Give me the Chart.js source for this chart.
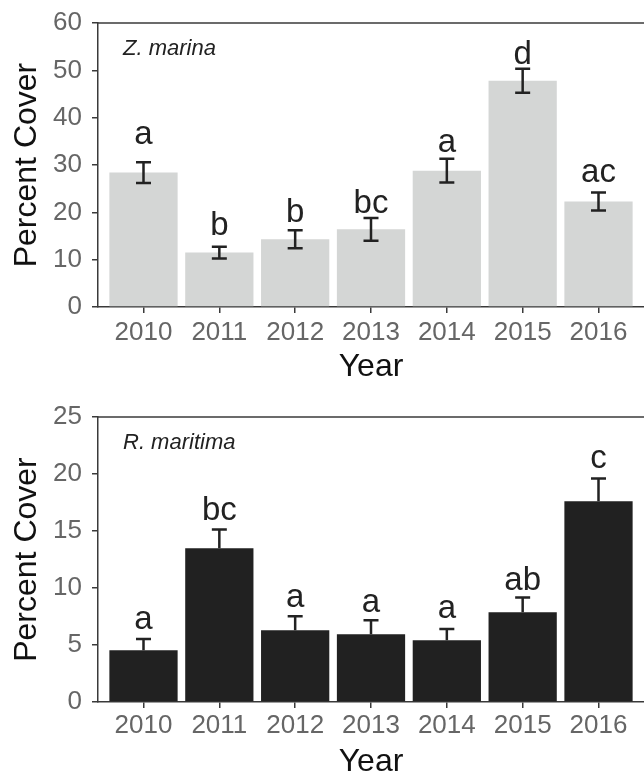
<!DOCTYPE html>
<html>
<head>
<meta charset="utf-8">
<script src="https://cdn.jsdelivr.net/npm/chart.js@4.4.1/dist/chart.umd.min.js"></script>
<style>
  html, body { margin: 0; padding: 0; background: #ffffff; overflow: hidden; }
  .panel { width: 644px; height: 388px; }
  canvas { display: block; }
</style>
</head>
<body>
<div class="panel"><canvas id="zostera" width="644" height="388"></canvas></div>
<div class="panel"><canvas id="ruppia" width="644" height="388"></canvas></div>
<script>
// Survey years
const years = ['2010', '2011', '2012', '2013', '2014', '2015', '2016'];

// Zostera marina: mean percent cover, standard error, significance groups
const zosteraMean = [28.4, 11.5, 14.3, 16.4, 28.8, 47.8, 22.3];
const zosteraSE = [2.2, 1.25, 1.9, 2.4, 2.5, 2.55, 1.9];
const zosteraLetters = ['a', 'b', 'b', 'bc', 'a', 'd', 'ac'];
const zosteraLetterY = [34.5, 15.3, 17.9, 19.8, 32.7, 51.3, 26.4];
const zosteraTicks = [0, 10, 20, 30, 40, 50, 60];

// Ruppia maritima: mean percent cover, standard error, significance groups
const ruppiaMean = [4.53, 13.48, 6.29, 5.94, 5.41, 7.87, 17.6];
const ruppiaSE = [1.0, 1.65, 1.23, 1.23, 1.0, 1.3, 2.0];
const ruppiaLetters = ['a', 'bc', 'a', 'a', 'a', 'ab', 'c'];
const ruppiaLetterY = [6.4, 16.0, 8.3, 7.9, 7.4, 9.8, 20.5];
const ruppiaTicks = [0, 5, 10, 15, 20, 25];

const FONT = '"Liberation Sans", Arial, Helvetica, sans-serif';
const AXIS = '#3a3a3a';
const TICK_TEXT = '#666666';
const INK = '#222222';

// Draws the top frame line, error bars, group letters and species name
const annotate = {
  id: 'annotate',
  afterDatasetsDraw(chart, args, opts) {
    const { ctx, chartArea } = chart;
    const y = chart.scales.y;
    const bars = chart.getDatasetMeta(0).data;
    ctx.save();

    ctx.strokeStyle = AXIS;
    ctx.lineWidth = 1.5;
    ctx.beginPath();
    ctx.moveTo(chartArea.left - 0.75, chartArea.top);
    ctx.lineTo(chart.width, chartArea.top);
    ctx.stroke();

    ctx.strokeStyle = INK;
    ctx.lineWidth = 2.5;
    const cap = 7.5;
    bars.forEach((bar, i) => {
      const m = opts.mean[i], se = opts.se[i];
      const yHi = y.getPixelForValue(m + se);
      const yLo = opts.upperOnly ? y.getPixelForValue(m) : y.getPixelForValue(m - se);
      ctx.beginPath();
      ctx.moveTo(bar.x, yHi);
      ctx.lineTo(bar.x, yLo);
      ctx.moveTo(bar.x - cap, yHi);
      ctx.lineTo(bar.x + cap, yHi);
      if (!opts.upperOnly) {
        ctx.moveTo(bar.x - cap, yLo);
        ctx.lineTo(bar.x + cap, yLo);
      }
      ctx.stroke();
    });

    ctx.fillStyle = INK;
    ctx.font = '33px ' + FONT;
    ctx.textAlign = 'center';
    ctx.textBaseline = 'alphabetic';
    bars.forEach((bar, i) => {
      ctx.fillText(opts.letters[i], bar.x, y.getPixelForValue(opts.letterY[i]));
    });

    ctx.font = 'italic 22px ' + FONT;
    ctx.textAlign = 'left';
    ctx.fillText(opts.species, chartArea.left + 25, chartArea.top + 31.5);
    ctx.restore();
  }
};

function panel(id, cfg) {
  return new Chart(document.getElementById(id), {
    type: 'bar',
    data: {
      datasets: [{
        data: cfg.mean.map((v, i) => ({ x: i, y: v })),
        backgroundColor: cfg.color,
        borderWidth: 0,
        categoryPercentage: 0.9,
        barPercentage: 1
      }]
    },
    options: {
      responsive: false,
      animation: false,
      devicePixelRatio: 1,
      layout: { padding: { top: cfg.padTop, right: 0, bottom: 0, left: 0 } },
      plugins: {
        legend: { display: false },
        tooltip: { enabled: false },
        annotate: {
          mean: cfg.mean, se: cfg.se, letters: cfg.letters, letterY: cfg.letterY,
          species: cfg.species, upperOnly: cfg.upperOnly
        }
      },
      scales: {
        x: {
          type: 'linear',
          min: -0.6,
          max: 6.6,
          offset: false,
          z: 1,
          afterBuildTicks: s => { s.ticks = years.map((_, i) => ({ value: i })); },
          afterFit: s => { s.height = cfg.xHeight; },
          ticks: {
            callback: v => years[v],
            autoSkip: false,
            maxRotation: 0,
            padding: cfg.xTickPad,
            color: TICK_TEXT,
            font: { family: FONT, size: 26, lineHeight: 1 }
          },
          grid: { offset: false, drawOnChartArea: false, tickLength: 6, color: AXIS, lineWidth: 1.5 },
          border: { display: true, color: AXIS, width: 1.5 },
          title: {
            display: true,
            text: 'Year',
            color: '#111111',
            font: { family: FONT, size: 32, lineHeight: 1 },
            padding: { top: 0, bottom: cfg.xTitlePad }
          }
        },
        y: {
          min: 0,
          max: cfg.max,
          z: 1,
          afterBuildTicks: s => { s.ticks = cfg.ticks.map(v => ({ value: v })); },
          afterFit: s => { s.width = 98; },
          ticks: {
            padding: 10,
            color: TICK_TEXT,
            font: { family: FONT, size: 26, lineHeight: 1 }
          },
          grid: { drawOnChartArea: false, tickLength: 6, color: AXIS, lineWidth: 1.5 },
          border: { display: true, color: AXIS, width: 1.5 },
          title: {
            display: true,
            text: 'Percent Cover',
            color: '#111111',
            font: { family: FONT, size: 32, lineHeight: 1 },
            padding: { top: 11, bottom: 0 }
          }
        }
      }
    },
    plugins: [annotate]
  });
}

panel('zostera', {
  mean: zosteraMean, se: zosteraSE, letters: zosteraLetters, letterY: zosteraLetterY,
  ticks: zosteraTicks, max: 60, color: '#D4D6D5', species: 'Z. marina', upperOnly: false,
  padTop: 23, xHeight: 81, xTickPad: 7, xTitlePad: 5
});

panel('ruppia', {
  mean: ruppiaMean, se: ruppiaSE, letters: ruppiaLetters, letterY: ruppiaLetterY,
  ticks: ruppiaTicks, max: 25, color: '#212121', species: 'R. maritima', upperOnly: true,
  padTop: 29, xHeight: 74, xTickPad: 5, xTitlePad: -2
});
</script>
</body>
</html>
